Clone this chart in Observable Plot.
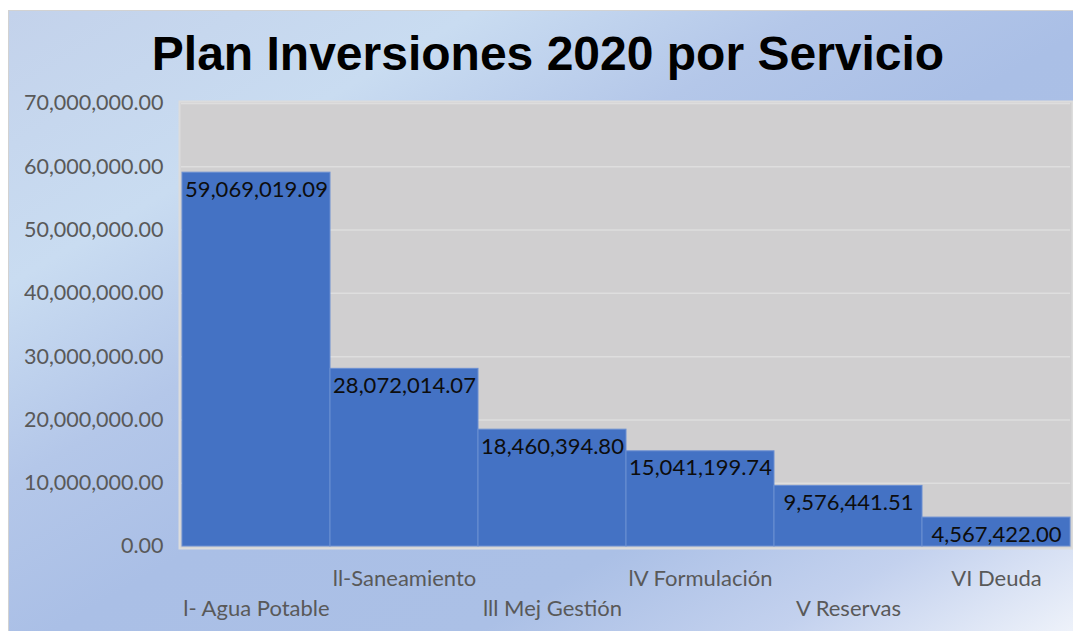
<!DOCTYPE html>
<html>
<head>
<meta charset="utf-8">
<script src="https://cdn.jsdelivr.net/npm/d3@7"></script>
<script src="https://cdn.jsdelivr.net/npm/@observablehq/plot@0.6"></script>
<style>
  html, body { margin: 0; padding: 0; background: #ffffff; }
  body { width: 1073px; height: 631px; position: relative; overflow: hidden; }
  #bg {
    position: absolute; left: 8px; top: 10px; width: 1065px; height: 621px;
    border-left: 1px solid #d2d2d2; border-top: 1px solid #d2d2d2;
    background: linear-gradient(to bottom right, #c3d2eb 0%, #c9dcf1 22%, #b4c7e9 38%, #aabfe6 52%, #abc0e6 72%, #c3d1ee 86%, #eef2fa 100%);
  }
  #title {
    position: absolute; left: 0; top: 30px; width: 1096px; text-align: center;
    font-family: "Liberation Sans", Arial, sans-serif; font-weight: bold;
    font-size: 48px; line-height: 48px; color: #000;
  }
  #chart { position: absolute; left: 0; top: 0; }
</style>
</head>
<body>
<div id="bg"></div>
<div id="chart"></div>
<div id="title">Plan Inversiones 2020 por Servicio</div>
<script>
const categories = ["l- Agua Potable", "ll-Saneamiento", "lll Mej Gestión", "lV Formulación", "V Reservas", "VI Deuda"];
const values = [59069019.09, 28072014.07, 18460394.80, 15041199.74, 9576441.51, 4567422.00];
const yTicks = [0, 10000000, 20000000, 30000000, 40000000, 50000000, 60000000, 70000000];

const data = categories.map((c, i) => ({category: c, value: values[i]}));
const fmt = d3.format(",.2f");
const topRow = categories.filter((c, i) => i % 2 === 1);
const bottomRow = categories.filter((c, i) => i % 2 === 0);

const chart = Plot.plot({
  width: 1073,
  height: 631,
  marginLeft: 181,
  marginRight: 3,
  marginTop: 103,
  marginBottom: 85,
  style: {background: "transparent", fontFamily: "Lato, sans-serif"},
  x: {domain: categories, padding: 0, axis: null, label: null},
  y: {domain: [0, 70000000], axis: null, label: null},
  marks: [
    Plot.frame({fill: "#d0cfd0", stroke: "#dcdcdc", strokeWidth: 2, inset: -2}),
    Plot.gridY(yTicks.slice(1), {stroke: "#dedede", strokeOpacity: 1, strokeWidth: 1.5}),
    Plot.barY(data, {x: "category", y: "value", fill: "#4472c4", stroke: "#6b8fd2", strokeWidth: 1}),
    Plot.text(data, {x: "category", y: "value", text: d => fmt(d.value), dy: 17, lineAnchor: "middle", fill: "#0d0d0d", fontSize: 22}),
    Plot.axisY(yTicks, {tickSize: 0, tickPadding: 18, tickFormat: fmt, fontSize: 21.5, fill: "#595959", label: null}),
    Plot.axisX(topRow, {tickSize: 0, tickPadding: 24, fontSize: 22, fill: "#595959", label: null}),
    Plot.axisX(bottomRow, {tickSize: 0, tickPadding: 54, fontSize: 22, fill: "#595959", label: null})
  ]
});
document.getElementById("chart").appendChild(chart);
</script>
</body>
</html>
